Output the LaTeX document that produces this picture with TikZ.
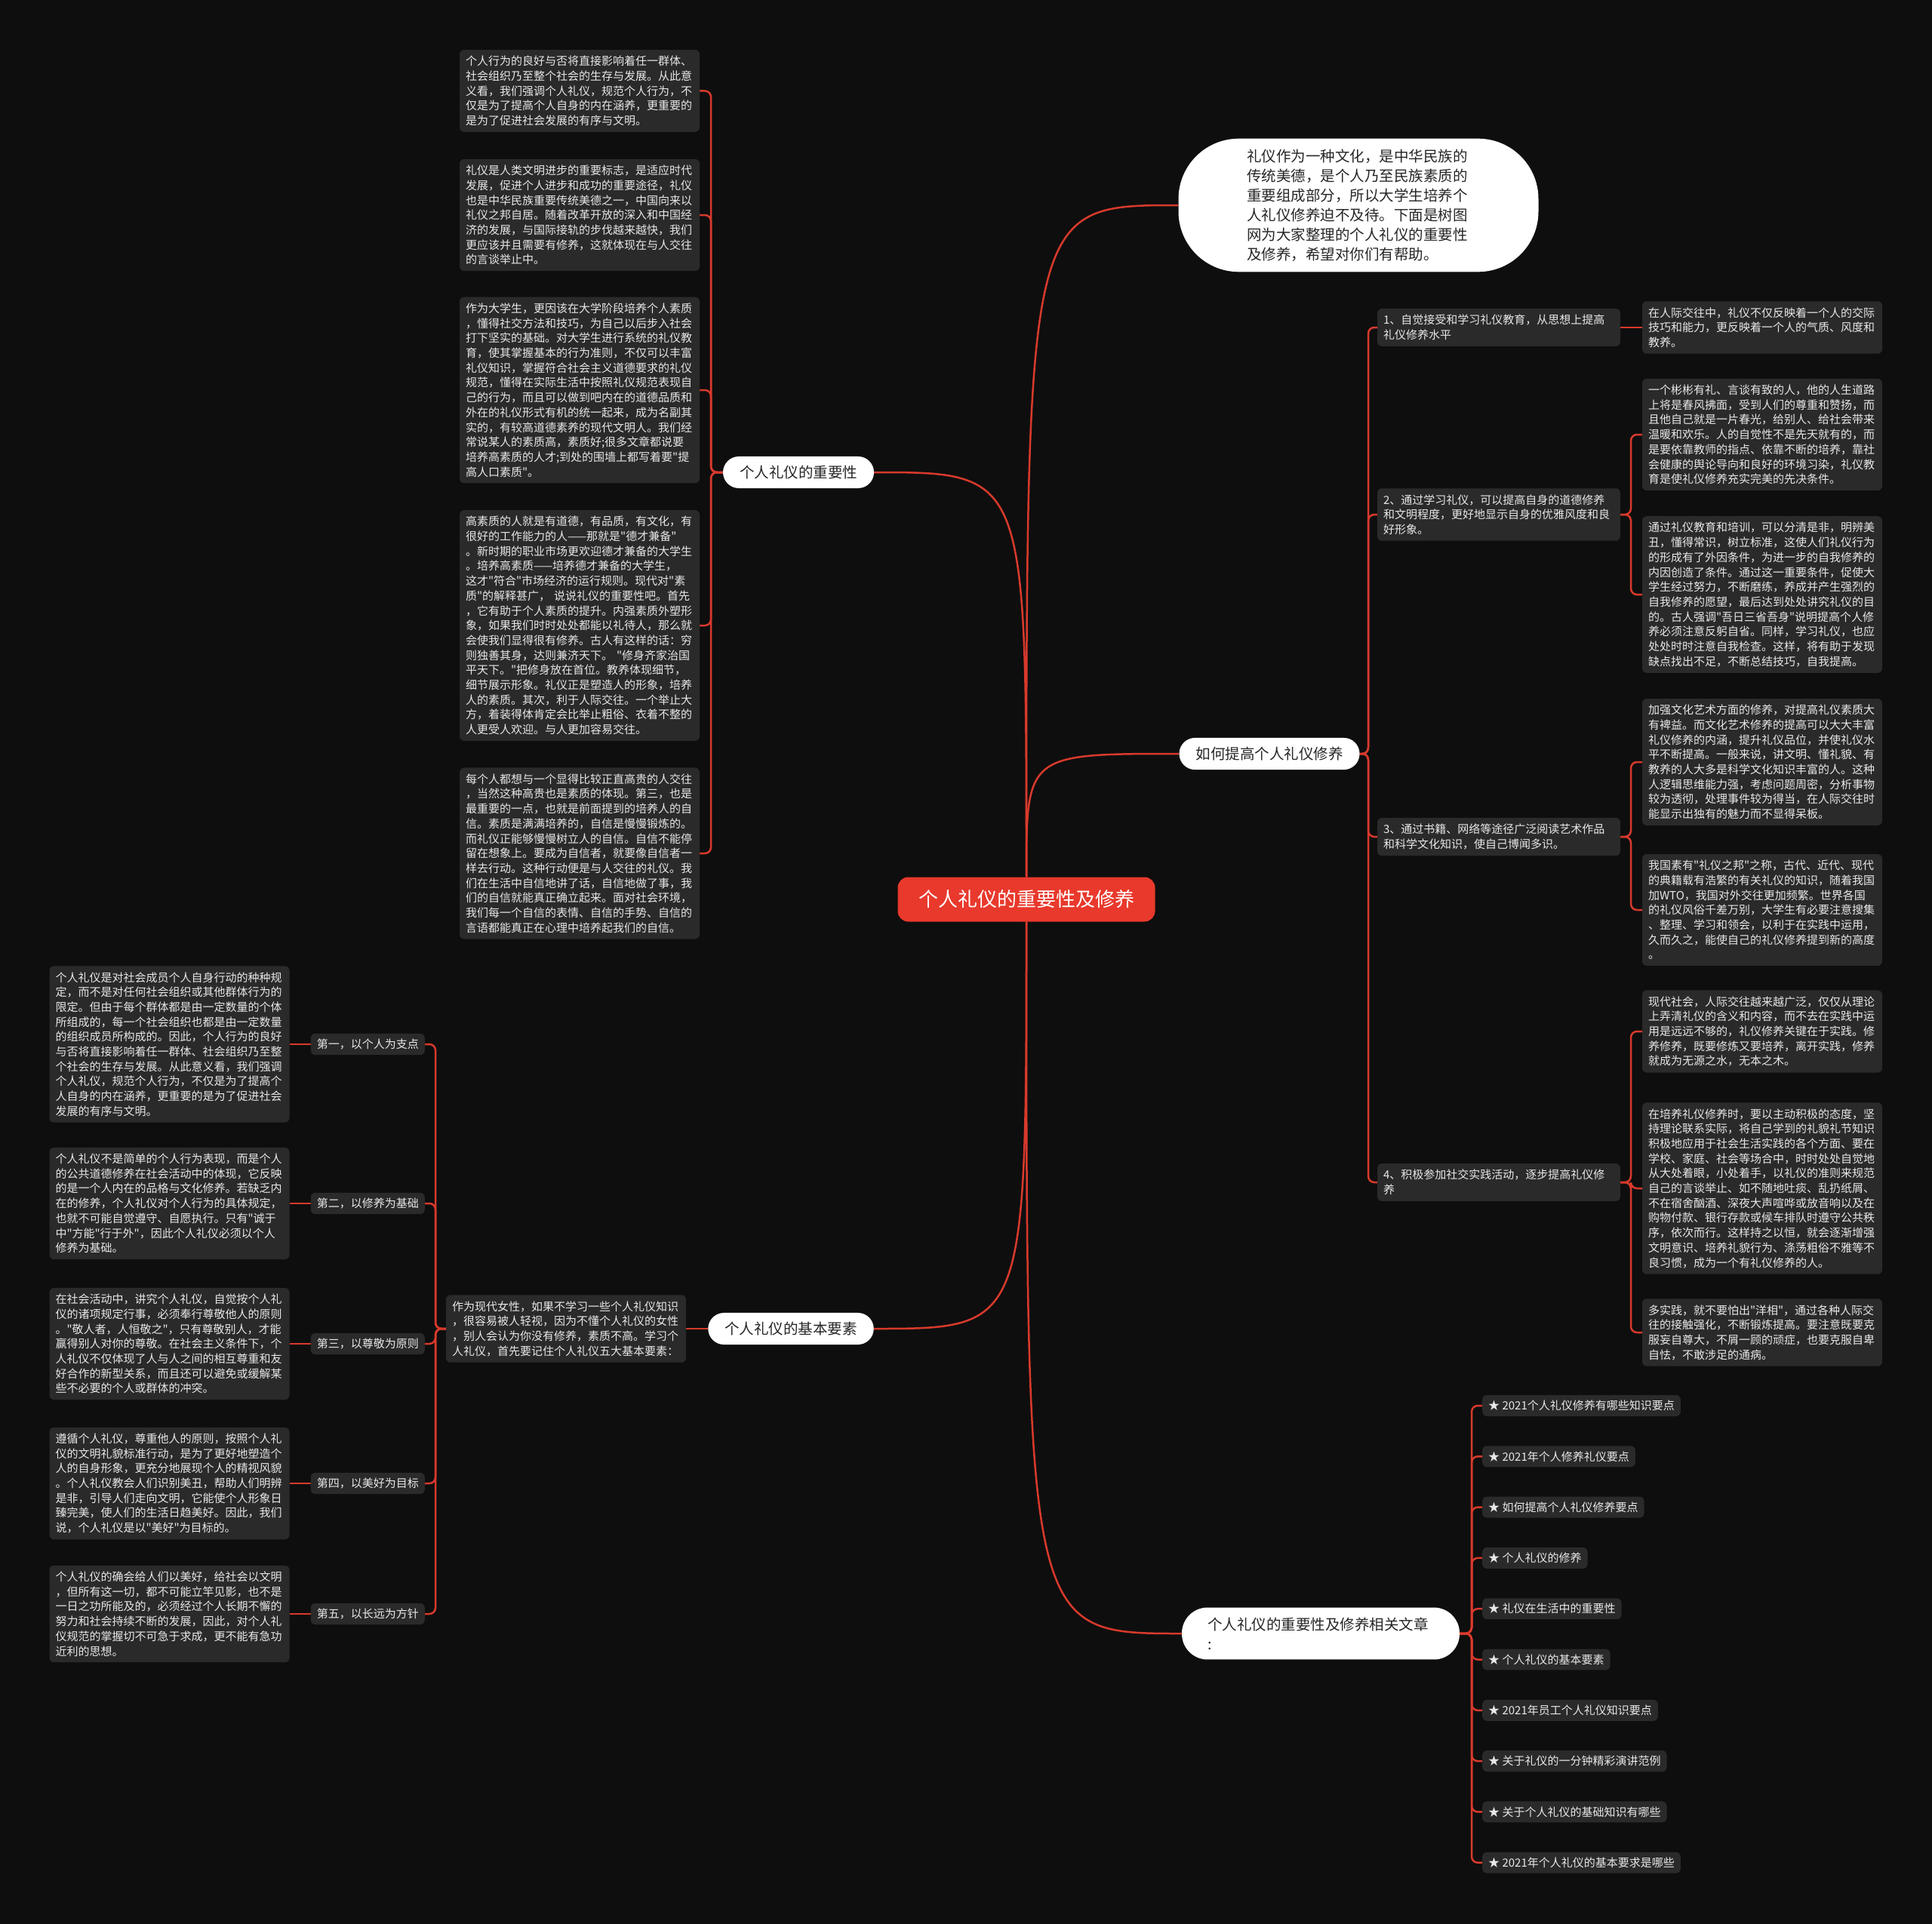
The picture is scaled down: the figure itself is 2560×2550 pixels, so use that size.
\documentclass[tikz,border=0pt]{standalone}
\usepackage{fontspec}
\newfontfamily\cjk{Noto Sans CJK SC}
\definecolor{bgc}{HTML}{0E0E0E}
\definecolor{boxc}{HTML}{2A2A2A}
\definecolor{txtc}{HTML}{E8E8E8}
\definecolor{linkc}{HTML}{D83A2C}
\definecolor{rootc}{HTML}{E8392C}
\definecolor{pilltxt}{HTML}{262626}
\pgfdeclarelayer{back}
\pgfdeclarelayer{lines}
\pgfsetlayers{back,lines,main}
\begin{document}
\begin{tikzpicture}[x=1pt,y=-1pt,
  every node/.style={font=\cjk},
  detail/.style={fill=boxc, text=txtc, rounded corners=6pt, align=left, text width=302pt, inner xsep=8pt, inner ysep=8pt, font=\cjk\fontsize{15}{19.7}\selectfont},
  itembox/.style={fill=boxc, text=txtc, rounded corners=6pt, align=left, text width=306pt, inner xsep=8pt, inner ysep=8pt, font=\cjk\fontsize{15}{19.7}\selectfont},
  tag/.style={fill=boxc, text=txtc, rounded corners=6pt, inner xsep=8pt, inner ysep=7pt, font=\cjk\fontsize{15}{19.7}\selectfont},
  pill/.style={fill=white, text=pilltxt, rounded corners=21pt, inner xsep=22pt, inner ysep=12pt, font=\cjk\fontsize{19.5}{26}\selectfont},
  root/.style={fill=rootc, text=white, rounded corners=14pt, minimum width=341pt, minimum height=59pt, font=\cjk\fontsize{26}{30}\selectfont},
  link/.style={draw=linkc, line width=2.5pt},
  bracket/.style={link, rounded corners=8pt},
]
\useasboundingbox (0,0) rectangle (2560,2550);
\begin{pgfonlayer}{back}
\fill[bgc] (0,0) rectangle (2560,2550);
\end{pgfonlayer}

% root and main branches
\node[root] (c) at (1360,1192) {个人礼仪的重要性及修养};
\node[pill, rounded corners=80pt, minimum width=477pt, text width=296pt, align=left, inner ysep=14pt] (intro) at (1800,272) {礼仪作为一种文化，是中华民族的\\传统美德，是个人乃至民族素质的\\重要组成部分，所以大学生培养个\\人礼仪修养迫不及待。下面是树图\\网为大家整理的个人礼仪的重要性\\及修养，希望对你们有帮助。};
\node[pill] (how) at (1682,999) {如何提高个人礼仪修养};
\node[pill] (imp) at (1058,626) {个人礼仪的重要性};
\node[pill] (basic) at (1048,1761) {个人礼仪的基本要素};
\node[pill, rounded corners=34pt, text width=300pt, align=left, inner xsep=34pt, inner ysep=13pt] (rel) at (1750,2165) {个人礼仪的重要性及修养相关文章\\:};

% importance column
\node[detail] (b1) at (768,120.5) {个人行为的良好与否将直接影响着任一群体、\\社会组织乃至整个社会的生存与发展。从此意\\义看，我们强调个人礼仪，规范个人行为，不\\仅是为了提高个人自身的内在涵养，更重要的\\是为了促进社会发展的有序与文明。};
\node[detail] (b2) at (768,285) {礼仪是人类文明进步的重要标志，是适应时代\\发展，促进个人进步和成功的重要途径，礼仪\\也是中华民族重要传统美德之一，中国向来以\\礼仪之邦自居。随着改革开放的深入和中国经\\济的发展，与国际接轨的步伐越来越快，我们\\更应该并且需要有修养，这就体现在与人交往\\的言谈举止中。};
\node[detail] (b3) at (768,517) {作为大学生，更因该在大学阶段培养个人素质\\，懂得社交方法和技巧，为自己以后步入社会\\打下坚实的基础。对大学生进行系统的礼仪教\\育，使其掌握基本的行为准则，不仅可以丰富\\礼仪知识，掌握符合社会主义道德要求的礼仪\\规范，懂得在实际生活中按照礼仪规范表现自\\己的行为，而且可以做到吧内在的道德品质和\\外在的礼仪形式有机的统一起来，成为名副其\\实的，有较高道德素养的现代文明人。我们经\\常说某人的素质高，素质好;很多文章都说要\\培养高素质的人才;到处的围墙上都写着要"提\\高人口素质"。};
\node[detail] (b4) at (768,829) {高素质的人就是有道德，有品质，有文化，有\\很好的工作能力的人——那就是"德才兼备"\\。新时期的职业市场更欢迎德才兼备的大学生\\。培养高素质——培养德才兼备的大学生，\\这才"符合"市场经济的运行规则。现代对"素\\质"的解释甚广， 说说礼仪的重要性吧。首先\\，它有助于个人素质的提升。内强素质外塑形\\象，如果我们时时处处都能以礼待人，那么就\\会使我们显得很有修养。古人有这样的话：穷\\则独善其身，达则兼济天下。 "修身齐家治国\\平天下。"把修身放在首位。教养体现细节，\\细节展示形象。礼仪正是塑造人的形象，培养\\人的素质。其次，利于人际交往。一个举止大\\方，着装得体肯定会比举止粗俗、衣着不整的\\人更受人欢迎。与人更加容易交往。};
\node[detail] (b5) at (768,1131) {每个人都想与一个显得比较正直高贵的人交往\\，当然这种高贵也是素质的体现。第三，也是\\最重要的一点，也就是前面提到的培养人的自\\信。素质是满满培养的，自信是慢慢锻炼的。\\而礼仪正能够慢慢树立人的自信。自信不能停\\留在想象上。要成为自信者，就要像自信者一\\样去行动。这种行动便是与人交往的礼仪。我\\们在生活中自信地讲了话，自信地做了事，我\\们的自信就能真正确立起来。面对社会环境，\\我们每一个自信的表情、自信的手势、自信的\\言语都能真正在心理中培养起我们的自信。};

% basic elements
\node[detail] (bt) at (750,1761) {作为现代女性，如果不学习一些个人礼仪知识\\，很容易被人轻视，因为不懂个人礼仪的女性\\，别人会认为你没有修养，素质不高。学习个\\人礼仪，首先要记住个人礼仪五大基本要素：};
\node[tag, anchor=east] (f1) at (563,1384) {第一，以个人为支点};
\node[tag, anchor=east] (f2) at (563,1595) {第二，以修养为基础};
\node[tag, anchor=east] (f3) at (563,1781) {第三，以尊敬为原则};
\node[tag, anchor=east] (f4) at (563,1966) {第四，以美好为目标};
\node[tag, anchor=east] (f5) at (563,2139) {第五，以长远为方针};
\node[detail] (d1) at (224.5,1384) {个人礼仪是对社会成员个人自身行动的种种规\\定，而不是对任何社会组织或其他群体行为的\\限定。但由于每个群体都是由一定数量的个体\\所组成的，每一个社会组织也都是由一定数量\\的组织成员所构成的。因此，个人行为的良好\\与否将直接影响着任一群体、社会组织乃至整\\个社会的生存与发展。从此意义看，我们强调\\个人礼仪，规范个人行为，不仅是为了提高个\\人自身的内在涵养，更重要的是为了促进社会\\发展的有序与文明。};
\node[detail] (d2) at (224.5,1595) {个人礼仪不是简单的个人行为表现，而是个人\\的公共道德修养在社会活动中的体现，它反映\\的是一个人内在的品格与文化修养。若缺乏内\\在的修养，个人礼仪对个人行为的具体规定，\\也就不可能自觉遵守、自愿执行。只有"诚于\\中"方能"行于外"，因此个人礼仪必须以个人\\修养为基础。};
\node[detail] (d3) at (224.5,1781) {在社会活动中，讲究个人礼仪，自觉按个人礼\\仪的诸项规定行事，必须奉行尊敬他人的原则\\。"敬人者，人恒敬之"，只有尊敬别人，才能\\赢得别人对你的尊敬。在社会主义条件下，个\\人礼仪不仅体现了人与人之间的相互尊重和友\\好合作的新型关系，而且还可以避免或缓解某\\些不必要的个人或群体的冲突。};
\node[detail] (d4) at (224.5,1966) {遵循个人礼仪，尊重他人的原则，按照个人礼\\仪的文明礼貌标准行动，是为了更好地塑造个\\人的自身形象，更充分地展现个人的精视风貌\\。个人礼仪教会人们识别美丑，帮助人们明辨\\是非，引导人们走向文明，它能使个人形象日\\臻完美，使人们的生活日趋美好。因此，我们\\说，个人礼仪是以"美好"为目标的。};
\node[detail] (d5) at (224.5,2139) {个人礼仪的确会给人们以美好，给社会以文明\\，但所有这一切，都不可能立竿见影，也不是\\一日之功所能及的，必须经过个人长期不懈的\\努力和社会持续不断的发展，因此，对个人礼\\仪规范的掌握切不可急于求成，更不能有急功\\近利的思想。};

% how to improve
\node[itembox] (i1) at (1986,434) {1、自觉接受和学习礼仪教育，从思想上提高\\礼仪修养水平};
\node[itembox] (i2) at (1986,682) {2、通过学习礼仪，可以提高自身的道德修养\\和文明程度，更好地显示自身的优雅风度和良\\好形象。};
\node[itembox] (i3) at (1986,1109) {3、通过书籍、网络等途径广泛阅读艺术作品\\和科学文化知识，使自己博闻多识。};
\node[itembox] (i4) at (1986,1567) {4、积极参加社交实践活动，逐步提高礼仪修\\养};
\node[detail] (r1) at (2335,434) {在人际交往中，礼仪不仅反映着一个人的交际\\技巧和能力，更反映着一个人的气质、风度和\\教养。};
\node[detail] (r2a) at (2335,576) {一个彬彬有礼、言谈有致的人，他的人生道路\\上将是春风拂面，受到人们的尊重和赞扬，而\\且他自己就是一片春光，给别人、给社会带来\\温暖和欢乐。人的自觉性不是先天就有的，而\\是要依靠教师的指点、依靠不断的培养，靠社\\会健康的舆论导向和良好的环境习染，礼仪教\\育是使礼仪修养充实完美的先决条件。};
\node[detail] (r2b) at (2335,788) {通过礼仪教育和培训，可以分清是非，明辨美\\丑，懂得常识，树立标准，这使人们礼仪行为\\的形成有了外因条件，为进一步的自我修养的\\内因创造了条件。通过这一重要条件，促使大\\学生经过努力，不断磨练，养成并产生强烈的\\自我修养的愿望，最后达到处处讲究礼仪的目\\的。古人强调"吾日三省吾身"说明提高个人修\\养必须注意反躬自省。同样，学习礼仪，也应\\处处时时注意自我检查。这样，将有助于发现\\缺点找出不足，不断总结技巧，自我提高。};
\node[detail] (r3a) at (2335,1010) {加强文化艺术方面的修养，对提高礼仪素质大\\有裨益。而文化艺术修养的提高可以大大丰富\\礼仪修养的内涵，提升礼仪品位，并使礼仪水\\平不断提高。一般来说，讲文明、懂礼貌、有\\教养的人大多是科学文化知识丰富的人。这种\\人逻辑思维能力强，考虑问题周密，分析事物\\较为透彻，处理事件较为得当，在人际交往时\\能显示出独有的魅力而不显得呆板。};
\node[detail] (r3b) at (2335,1206) {我国素有"礼仪之邦"之称，古代、近代、现代\\的典籍载有浩繁的有关礼仪的知识，随着我国\\加WTO，我国对外交往更加频繁。世界各国\\的礼仪风俗千差万别，大学生有必要注意搜集\\、整理、学习和领会，以利于在实践中运用，\\久而久之，能使自己的礼仪修养提到新的高度\\。};
\node[detail] (r4a) at (2335,1367) {现代社会，人际交往越来越广泛，仅仅从理论\\上弄清礼仪的含义和内容，而不去在实践中运\\用是远远不够的，礼仪修养关键在于实践。修\\养修养，既要修炼又要培养，离开实践，修养\\就成为无源之水，无本之木。};
\node[detail] (r4b) at (2335,1575) {在培养礼仪修养时，要以主动积极的态度，坚\\持理论联系实际，将自己学到的礼貌礼节知识\\积极地应用于社会生活实践的各个方面、要在\\学校、家庭、社会等场合中，时时处处自觉地\\从大处着眼，小处着手，以礼仪的准则来规范\\自己的言谈举止、如不随地吐痰、乱扔纸屑、\\不在宿舍酗酒、深夜大声喧哗或放音响以及在\\购物付款、银行存款或候车排队时遵守公共秩\\序，依次而行。这样持之以恒，就会逐渐增强\\文明意识、培养礼貌行为、涤荡粗俗不雅等不\\良习惯，成为一个有礼仪修养的人。};
\node[detail] (r4c) at (2335,1766) {多实践，就不要怕出"洋相"，通过各种人际交\\往的接触强化，不断锻炼提高。要注意既要克\\服妄自尊大，不屑一顾的顽症，也要克服自卑\\自怯，不敢涉足的通病。};

% related articles
\node[tag, anchor=west] (l1) at (1964,1863) {★ 2021个人礼仪修养有哪些知识要点};
\node[tag, anchor=west] (l2) at (1964,1930.3) {★ 2021年个人修养礼仪要点};
\node[tag, anchor=west] (l3) at (1964,1997.6) {★ 如何提高个人礼仪修养要点};
\node[tag, anchor=west] (l4) at (1964,2064.9) {★ 个人礼仪的修养};
\node[tag, anchor=west] (l5) at (1964,2132.2) {★ 礼仪在生活中的重要性};
\node[tag, anchor=west] (l6) at (1964,2199.5) {★ 个人礼仪的基本要素};
\node[tag, anchor=west] (l7) at (1964,2266.8) {★ 2021年员工个人礼仪知识要点};
\node[tag, anchor=west] (l8) at (1964,2334.1) {★ 关于礼仪的一分钟精彩演讲范例};
\node[tag, anchor=west] (l9) at (1964,2401.4) {★ 关于个人礼仪的基础知识有哪些};
\node[tag, anchor=west] (l10) at (1964,2468.7) {★ 2021年个人礼仪的基本要求是哪些};

% junctions
\coordinate (jimp) at (942,626);
\coordinate (jbt) at (577,1761);
\coordinate (jhow) at (1813,999);
\coordinate (ji1) at (2161,434);
\coordinate (ji2) at (2161,682);
\coordinate (ji3) at (2161,1109);
\coordinate (ji4) at (2161,1567);
\coordinate (jrel) at (1950,2165);

\begin{pgfonlayer}{lines}
\draw[link] (c.north) .. controls (c.north |- intro.west) .. (intro.west);
\draw[link] (c.north) .. controls (c.north |- how.west) .. (how.west);
\draw[link] (c.north) .. controls (c.north |- imp.east) .. (imp.east);
\draw[link] (c.south) .. controls (c.south |- basic.east) .. (basic.east);
\draw[link] (c.south) .. controls (c.south |- rel.west) .. (rel.west);
\foreach \b in {b1,b2,b3,b4,b5} \draw[bracket] (imp.west) -- (jimp) |- (\b.east);
\draw[link] (basic.west) -- (bt.east |- basic.west);
\foreach \f in {f1,f2,f3,f4,f5} \draw[bracket] (bt.west) -- (jbt) |- (\f.east);
\foreach \f/\d in {f1/d1,f2/d2,f3/d3,f4/d4,f5/d5} \draw[link] (\f.west) -- (\d.east |- \f.west);
\foreach \i in {i1,i2,i3,i4} \draw[bracket] (how.east) -- (jhow) |- (\i.west);
\draw[link] (i1.east) -- (r1.west |- i1.east);
\foreach \r in {r2a,r2b} \draw[bracket] (i2.east) -- (ji2) |- (\r.west);
\foreach \r in {r3a,r3b} \draw[bracket] (i3.east) -- (ji3) |- (\r.west);
\foreach \r in {r4a,r4b,r4c} \draw[bracket] (i4.east) -- (ji4) |- (\r.west);
\foreach \l in {l1,l2,l3,l4,l5,l6,l7,l8,l9,l10} \draw[bracket] (rel.east) -- (jrel) |- (\l.west);
\end{pgfonlayer}
\end{tikzpicture}
\end{document}
